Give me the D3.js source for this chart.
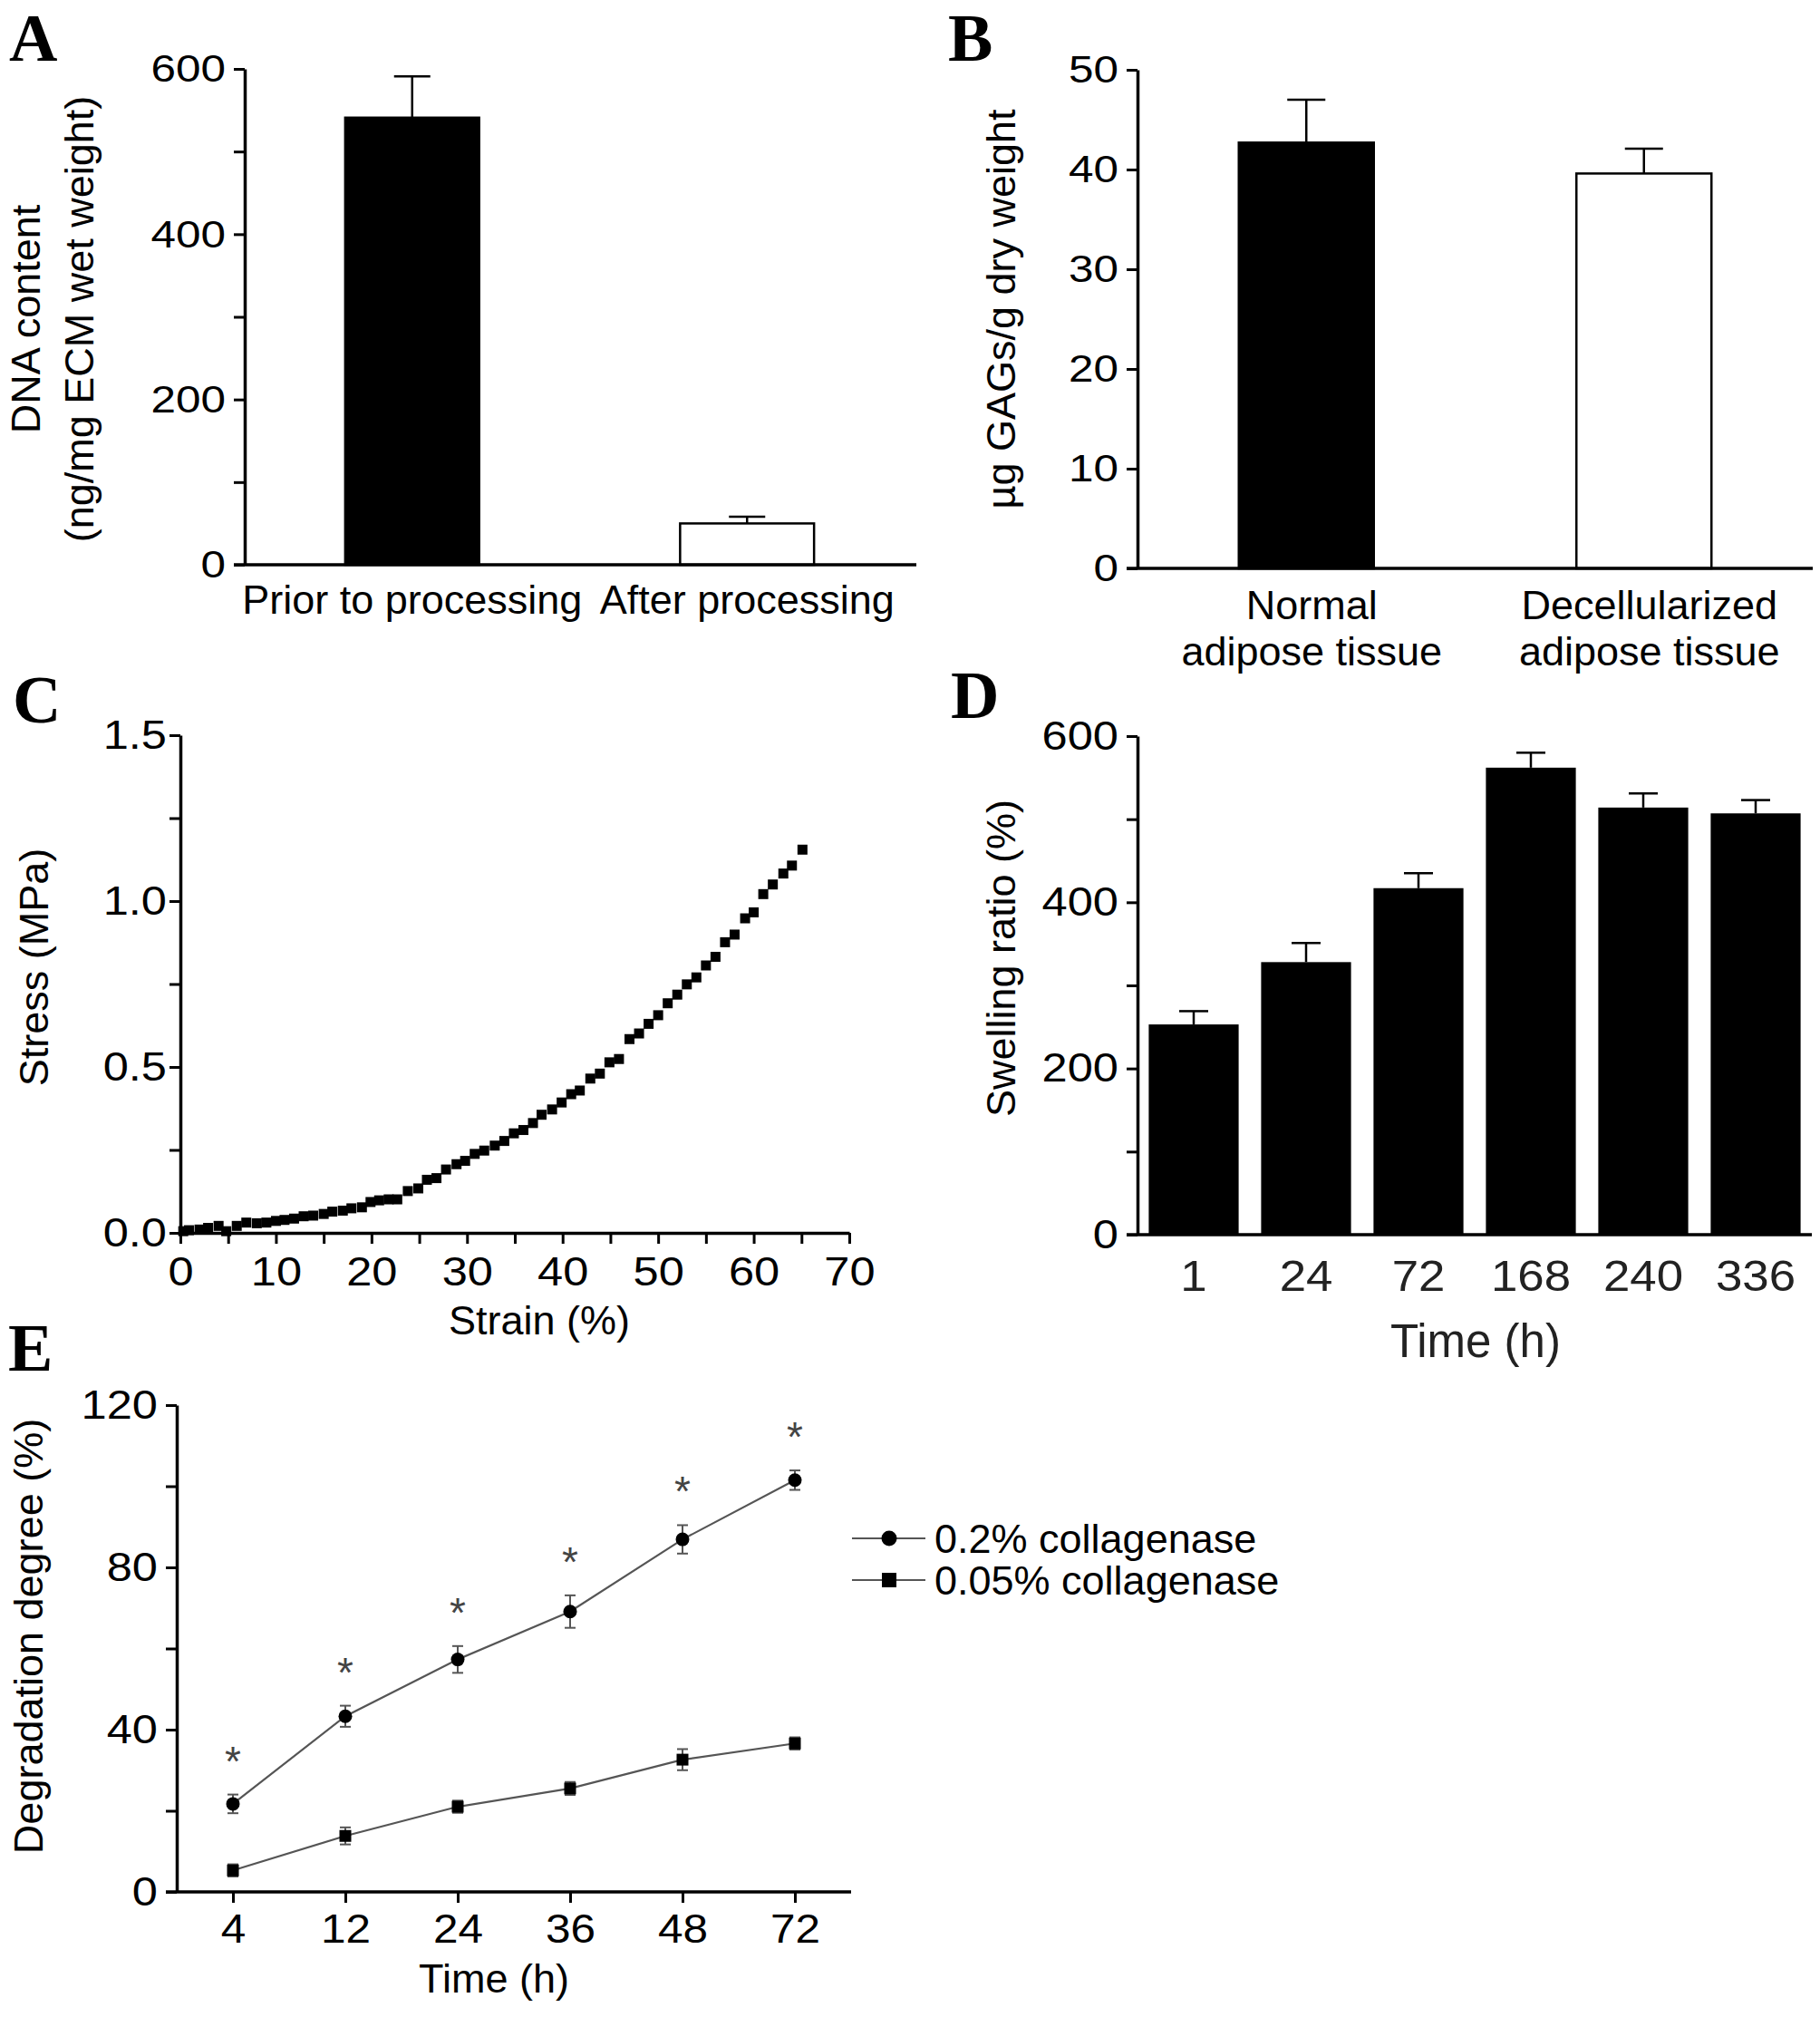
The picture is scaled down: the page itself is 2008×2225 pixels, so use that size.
<!DOCTYPE html>
<html>
<head>
<meta charset="utf-8">
<script src="https://cdnjs.cloudflare.com/ajax/libs/d3/7.8.5/d3.min.js"></script>
<style>
    body { margin: 0; background: #fff; }
</style>
</head>
<body>
<svg id="fig" width="2008" height="2225"></svg>
<script>
//----- data -----
// A: DNA content
var aCats = ["Prior to processing", "After processing"];
var aMeans = [541, 50];
var aErr = [50, 8];

// B: GAGs
var bCats = [["Normal", "adipose tissue"], ["Decellularized", "adipose tissue"]];
var bMeans = [42.7, 39.6];
var bErr = [4.3, 2.5];

// C: stress-strain curve
var cStrain = [0.3, 0.9, 2, 2.9, 4, 4.8, 5.9, 6.9, 8, 9, 10, 10.9, 11.9, 12.9, 13.9, 15, 15.9, 17, 17.9, 19,
    19.9, 20.8, 21.8, 22.7, 23.8, 24.9, 25.8, 26.8, 27.8, 28.9, 29.8, 30.8, 31.8, 32.9, 33.9, 34.9, 35.9,
    36.9, 37.8, 38.9, 39.9, 40.9, 41.8, 42.9, 43.9, 44.9, 45.9, 47, 48, 49, 50, 51, 52, 53, 54, 55, 56, 57,
    58, 59.1, 60, 61, 62, 63.1, 64, 65.1];
var cStress = [0.005, 0.008, 0.010, 0.015, 0.021, 0.005, 0.021, 0.031, 0.029, 0.031, 0.036, 0.039, 0.043,
    0.050, 0.052, 0.057, 0.064, 0.067, 0.074, 0.077, 0.093, 0.098, 0.101, 0.101, 0.126, 0.134, 0.160, 0.165,
    0.191, 0.207, 0.217, 0.238, 0.248, 0.263, 0.277, 0.300, 0.310, 0.331, 0.356, 0.372, 0.393, 0.418, 0.429,
    0.465, 0.480, 0.514, 0.524, 0.584, 0.601, 0.630, 0.656, 0.692, 0.718, 0.749, 0.770, 0.806, 0.832, 0.876,
    0.899, 0.948, 0.966, 1.021, 1.050, 1.083, 1.107, 1.155];

// D: swelling ratio
var dCats = ["1", "24", "72", "168", "240", "336"];
var dMeans = [253, 328, 417, 562, 514, 507];
var dErr = [16, 23, 18, 18, 17, 16];

// E: degradation
var eTimes = ["4", "12", "24", "36", "48", "72"];
var eHigh = [21.7, 43.3, 57.3, 69.1, 86.9, 101.5];
var eHighErr = [2.3, 2.6, 3.3, 4.0, 3.5, 2.4];
var eLow = [5.3, 13.8, 21.0, 25.5, 32.6, 36.6];
var eLowErr = [1.5, 2.1, 1.5, 1.6, 2.6, 1.5];
var eSig = [true, true, true, true, true, true];
var eNames = ["0.2% collagenase", "0.05% collagenase"];

var FONT = '"Liberation Sans", Arial, Helvetica, sans-serif';
var SERIF = '"Liberation Serif", "Times New Roman", serif';

var svg = d3.select("#fig")
    .attr("font-family", FONT);

//----- helpers -----
function styleAxis(g, fs, color) {
    g.attr("font-family", FONT).attr("font-size", fs);
    g.select(".domain").attr("stroke", "#000").attr("stroke-width", 3.5);
    g.selectAll(".tick line").attr("stroke", "#000").attr("stroke-width", 3);
    g.selectAll(".tick text").attr("fill", color || "#000");
}

function bottomText(g, off) {
    //put tick label baseline "off" px under the axis
    g.selectAll(".tick text").attr("dy", 0).attr("y", off);
}

function stretchTicks(g, sx) {
    //the figure's digits are a bit wider than Arial ones
    g.selectAll(".tick text").each(function () {
        var t = d3.select(this);
        var x = +t.attr("x") || 0, y = +t.attr("y") || 0;
        t.attr("x", 0).attr("y", 0)
            .attr("transform", "translate(" + x + "," + y + ") scale(" + sx + ",1)");
    });
}

function vLabel(x, y, txt, fs) {
    svg.append("text")
        .attr("transform", "translate(" + x + "," + y + ") rotate(-90)")
        .attr("text-anchor", "middle")
        .attr("font-size", fs)
        .text(txt);
}

function panelLetter(x, y, l) {
    svg.append("text")
        .attr("x", x).attr("y", y)
        .attr("font-family", SERIF)
        .attr("font-weight", "bold")
        .attr("font-size", 74)
        .text(l);
}

function errBars(g, cats, means, errs, x, y, capW, color, sw) {
    var eb = g.append("g").attr("class", "err");
    cats.forEach(function (c, i) {
        var cx = x(c) + (x.bandwidth ? x.bandwidth() / 2 : 0);
        eb.append("line")
            .attr("x1", cx).attr("x2", cx)
            .attr("y1", y(means[i])).attr("y2", y(means[i] + errs[i]))
            .attr("stroke", color).attr("stroke-width", sw);
        eb.append("line")
            .attr("x1", cx - capW / 2).attr("x2", cx + capW / 2)
            .attr("y1", y(means[i] + errs[i])).attr("y2", y(means[i] + errs[i]))
            .attr("stroke", color).attr("stroke-width", sw);
    });
}

var TICK_FS = 43, TICK_SX = 1.15;

//----- panel A -----
var xA = d3.scaleBand().domain(aCats).range([270, 1009]).paddingInner(0.6).paddingOuter(0.3);
var yA = d3.scaleLinear().domain([0, 600]).range([623, 76]);
var gA = svg.append("g").attr("class", "panelA");

errBars(gA, aCats, aMeans, aErr, xA, yA, 40, "#000", 2.5);
gA.selectAll(".bar").data(aCats).enter().append("rect")
    .attr("class", "bar")
    .attr("x", function (d) { return xA(d); })
    .attr("y", function (d, i) { return yA(aMeans[i]); })
    .attr("width", xA.bandwidth())
    .attr("height", function (d, i) { return yA(0) - yA(aMeans[i]); })
    .attr("fill", function (d, i) { return i === 0 ? "#000" : "#fff"; })
    .attr("stroke", "#000").attr("stroke-width", 2.5);

var axA = gA.append("g").attr("transform", "translate(270,0)")
    .call(d3.axisLeft(yA).tickValues(d3.range(0, 601, 100)).tickSize(12).tickSizeOuter(0).tickPadding(9)
        .tickFormat(function (d) { return d % 200 === 0 ? d : ""; }));
styleAxis(axA, TICK_FS);
stretchTicks(axA, TICK_SX);
var axAx = gA.append("g").attr("transform", "translate(0,623)")
    .call(d3.axisBottom(xA).tickSize(0).tickSizeOuter(0));
styleAxis(axAx, 45);
bottomText(axAx, 54);
axAx.select(".domain").attr("d", "M258,0H1011");

svg.append("text").attr("transform", "translate(44,352) rotate(-90)")
    .attr("text-anchor", "middle").attr("font-size", 45).text("DNA content");
svg.append("text").attr("transform", "translate(103,352) rotate(-90)")
    .attr("text-anchor", "middle").attr("font-size", 45).text("(ng/mg ECM wet weight)");
panelLetter(10, 67, "A");

//----- panel B -----
var xB = d3.scaleBand().domain(bCats.map(function (d) { return d.join(" "); }))
    .range([1255, 2000]).paddingInner(0.6).paddingOuter(0.3);
var yB = d3.scaleLinear().domain([0, 50]).range([627, 77]);
var gB = svg.append("g").attr("class", "panelB");
var bKeys = xB.domain();

errBars(gB, bKeys, bMeans, bErr, xB, yB, 42, "#000", 2.5);
gB.selectAll(".bar").data(bKeys).enter().append("rect")
    .attr("class", "bar")
    .attr("x", function (d) { return xB(d); })
    .attr("y", function (d, i) { return yB(bMeans[i]); })
    .attr("width", xB.bandwidth())
    .attr("height", function (d, i) { return yB(0) - yB(bMeans[i]); })
    .attr("fill", function (d, i) { return i === 0 ? "#000" : "#fff"; })
    .attr("stroke", "#000").attr("stroke-width", 2.5);

var axB = gB.append("g").attr("transform", "translate(1255,0)")
    .call(d3.axisLeft(yB).tickValues(d3.range(0, 51, 10)).tickSize(12).tickSizeOuter(0).tickPadding(9));
styleAxis(axB, TICK_FS);
stretchTicks(axB, TICK_SX);
var axBx = gB.append("g").attr("transform", "translate(0,627)")
    .call(d3.axisBottom(xB).tickSize(0).tickSizeOuter(0).tickFormat(""));
styleAxis(axBx, 45);
axBx.select(".domain").attr("d", "M1243,0H2000");

// two-line category labels
bCats.forEach(function (lines, i) {
    var t = gB.append("text")
        .attr("text-anchor", "middle").attr("font-size", 45)
        .attr("x", xB(bKeys[i]) + xB.bandwidth() / 2 + 6);
    lines.forEach(function (l, j) {
        t.append("tspan").attr("x", xB(bKeys[i]) + xB.bandwidth() / 2 + 6)
            .attr("y", 627 + 56 + j * 51).text(l);
    });
});
vLabel(1120, 341, "\u00b5g GAGs/g dry weight", 45);
panelLetter(1046, 67, "B");

//----- panel C -----
var xC = d3.scaleLinear().domain([0, 70]).range([199, 937]);
var yC = d3.scaleLinear().domain([0, 1.5]).range([1360, 811]);
var gC = svg.append("g").attr("class", "panelC");

gC.selectAll(".pt").data(cStrain).enter().append("rect")
    .attr("class", "pt")
    .attr("x", function (d) { return xC(d) - 5.5; })
    .attr("y", function (d, i) { return yC(cStress[i]) - 5.5; })
    .attr("width", 11).attr("height", 11)
    .attr("fill", "#000");

var axC = gC.append("g").attr("transform", "translate(199,0)")
    .call(d3.axisLeft(yC).tickValues(d3.range(0, 1.51, 0.25)).tickSize(12).tickSizeOuter(0).tickPadding(3)
        .tickFormat(function (d) { return Math.abs(d * 2 - Math.round(d * 2)) < 1e-6 ? d3.format(".1f")(d) : ""; }));
styleAxis(axC, TICK_FS + 1);
stretchTicks(axC, TICK_SX);
var axCx = gC.append("g").attr("transform", "translate(0,1360)")
    .call(d3.axisBottom(xC).tickValues(d3.range(0, 71, 5)).tickSize(12).tickSizeOuter(0)
        .tickFormat(function (d) { return d % 10 === 0 ? d : ""; }));
styleAxis(axCx, TICK_FS + 1);
bottomText(axCx, 58);
stretchTicks(axCx, TICK_SX);

svg.append("text").attr("x", 595).attr("y", 1472).attr("text-anchor", "middle")
    .attr("font-size", 45).text("Strain (%)");
vLabel(53, 1067, "Stress (MPa)", 45);
panelLetter(14, 797, "C");

//----- panel D -----
var xD = d3.scaleBand().domain(dCats).range([1255, 1999]).paddingInner(0.2).paddingOuter(0.1);
var yD = d3.scaleLinear().domain([0, 600]).range([1362, 812]);
var gD = svg.append("g").attr("class", "panelD");

errBars(gD, dCats, dMeans, dErr, xD, yD, 32, "#000", 2.5);
gD.selectAll(".bar").data(dCats).enter().append("rect")
    .attr("class", "bar")
    .attr("x", function (d) { return xD(d); })
    .attr("y", function (d, i) { return yD(dMeans[i]); })
    .attr("width", xD.bandwidth())
    .attr("height", function (d, i) { return yD(0) - yD(dMeans[i]); })
    .attr("fill", "#000");

var axD = gD.append("g").attr("transform", "translate(1255,0)")
    .call(d3.axisLeft(yD).tickValues(d3.range(0, 601, 100)).tickSize(12).tickSizeOuter(0).tickPadding(9)
        .tickFormat(function (d) { return d % 200 === 0 ? d : ""; }));
styleAxis(axD, TICK_FS + 1);
stretchTicks(axD, TICK_SX);
var axDx = gD.append("g").attr("transform", "translate(0,1362)")
    .call(d3.axisBottom(xD).tickSize(0).tickSizeOuter(0));
styleAxis(axDx, 48, "#222");
bottomText(axDx, 62);
stretchTicks(axDx, 1.1);
axDx.select(".domain").attr("d", "M1243,0H1999");

svg.append("text").attr("x", 1628).attr("y", 1497).attr("text-anchor", "middle")
    .attr("font-size", 51).attr("fill", "#222").text("Time (h)");
vLabel(1120, 1057, "Swelling ratio (%)", 45);
panelLetter(1049, 792, "D");

//----- panel E -----
var xE = d3.scalePoint().domain(eTimes).range([195, 939]).padding(0.5);
var yE = d3.scaleLinear().domain([0, 120]).range([2087, 1550]);
var gE = svg.append("g").attr("class", "panelE");
var lineE = d3.line()
    .x(function (d, i) { return xE(eTimes[i]); })
    .y(function (d) { return yE(d); });

[eHigh, eLow].forEach(function (s) {
    gE.append("path").datum(s)
        .attr("d", lineE)
        .attr("fill", "none").attr("stroke", "#555").attr("stroke-width", 2.2);
});

// error bars both ways
function eErrBars(means, errs) {
    means.forEach(function (m, i) {
        var cx = xE(eTimes[i]);
        var g = gE.append("g").attr("stroke", "#555").attr("stroke-width", 2);
        g.append("line").attr("x1", cx).attr("x2", cx).attr("y1", yE(m - errs[i])).attr("y2", yE(m + errs[i]));
        g.append("line").attr("x1", cx - 6).attr("x2", cx + 6).attr("y1", yE(m - errs[i])).attr("y2", yE(m - errs[i]));
        g.append("line").attr("x1", cx - 6).attr("x2", cx + 6).attr("y1", yE(m + errs[i])).attr("y2", yE(m + errs[i]));
    });
}
eErrBars(eHigh, eHighErr);
eErrBars(eLow, eLowErr);

gE.selectAll(".dot").data(eHigh).enter().append("circle")
    .attr("class", "dot")
    .attr("cx", function (d, i) { return xE(eTimes[i]); })
    .attr("cy", function (d) { return yE(d); })
    .attr("r", 7.5).attr("fill", "#000");
gE.selectAll(".sq").data(eLow).enter().append("rect")
    .attr("class", "sq")
    .attr("x", function (d, i) { return xE(eTimes[i]) - 6.5; })
    .attr("y", function (d) { return yE(d) - 6.5; })
    .attr("width", 13).attr("height", 13).attr("fill", "#000");

// significance stars
gE.selectAll(".star").data(eHigh).enter().append("text")
    .attr("class", "star")
    .attr("x", function (d, i) { return xE(eTimes[i]); })
    .attr("y", function (d, i) { return yE(d + eHighErr[i]) - 45 + 24; })
    .attr("text-anchor", "middle")
    .attr("font-size", 46).attr("fill", "#444")
    .text(function (d, i) { return eSig[i] ? "*" : ""; });

var axE = gE.append("g").attr("transform", "translate(195,0)")
    .call(d3.axisLeft(yE).tickValues(d3.range(0, 121, 20)).tickSize(12).tickSizeOuter(0).tickPadding(9)
        .tickFormat(function (d) { return d % 40 === 0 ? d : ""; }));
styleAxis(axE, TICK_FS + 1);
stretchTicks(axE, TICK_SX);
var axEx = gE.append("g").attr("transform", "translate(0,2087)")
    .call(d3.axisBottom(xE).tickSize(12).tickSizeOuter(0));
styleAxis(axEx, TICK_FS + 2);
bottomText(axEx, 56);
stretchTicks(axEx, 1.1);
axEx.select(".domain").attr("d", "M183,0H939");

svg.append("text").attr("x", 545).attr("y", 2198).attr("text-anchor", "middle")
    .attr("font-size", 45).text("Time (h)");
vLabel(47, 1805, "Degradation degree (%)", 45);
panelLetter(9, 1512, "E");

// legend
var leg = svg.append("g").attr("class", "legend");
eNames.forEach(function (n, i) {
    var ly = 1697 + i * 46;
    leg.append("line").attr("x1", 940).attr("x2", 1021).attr("y1", ly).attr("y2", ly)
        .attr("stroke", "#555").attr("stroke-width", 2.2);
    if (i === 0) {
        leg.append("circle").attr("cx", 981).attr("cy", ly).attr("r", 8.5).attr("fill", "#000");
    } else {
        leg.append("rect").attr("x", 973).attr("y", ly - 8).attr("width", 16).attr("height", 16).attr("fill", "#000");
    }
    leg.append("text").attr("x", 1031).attr("y", ly + 16).attr("font-size", 45).text(n);
});
</script>
</body>
</html>
